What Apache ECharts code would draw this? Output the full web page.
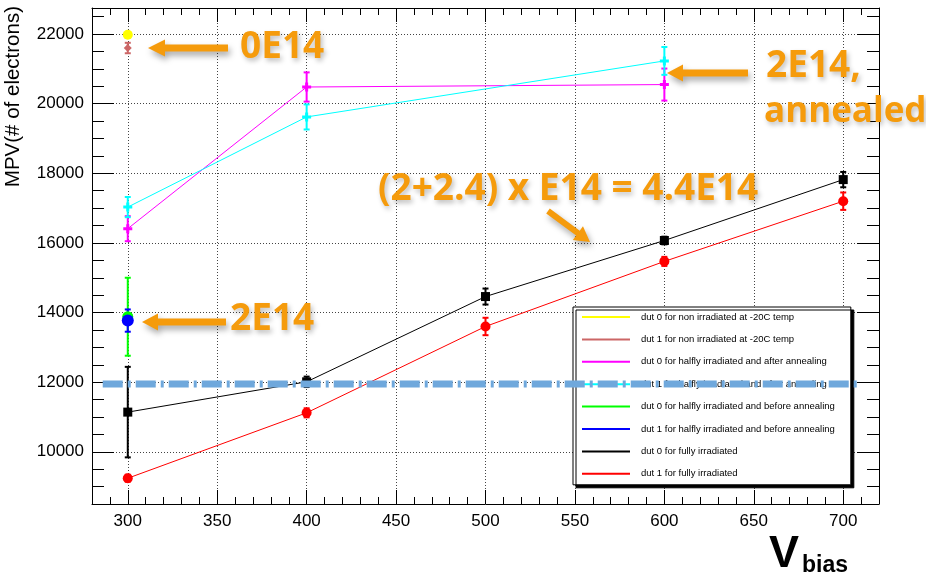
<!DOCTYPE html>
<html lang="en">
<head>
  <meta charset="UTF-8">
  <title>MPV vs Vbias</title>
  <script src="https://cdn.jsdelivr.net/npm/echarts@6.0.0/dist/echarts.min.js"></script>
  <style>
    html, body { margin: 0; padding: 0; background: #fff; }
    #chart { width: 926px; height: 576px; }
  </style>
</head>
<body>
  <div id="chart"></div>
  <script>
    // values (MPV in # of electrons, error = half bar length)
    const nonIrrV = [300];
    const dut0NonIrr = [21980];
    const dut0NonIrrErr = [60];
    const dut1NonIrr = [21600];
    const dut1NonIrrErr = [150];

    const annealV = [300, 400, 600];
    const dut0Anneal = [16410, 20480, 20550];
    const dut0AnnealErr = [360, 420, 460];
    const dut1Anneal = [17030, 19620, 21230];
    const dut1AnnealErr = [290, 360, 400];

    const beforeV = [300];
    const dut0Before = [13880];
    const dut0BeforeErr = [1120];
    const dut1Before = [13770];
    const dut1BeforeErr = [320];

    const fullV = [300, 400, 500, 600, 700];
    const dut0Full = [11140, 12010, 14460, 16070, 17820];
    const dut0FullErr = [1300, 150, 230, 110, 220];
    const dut1Full = [9240, 11120, 13600, 15470, 17200];
    const dut1FullErr = [100, 130, 250, 130, 250];

    // hand drawn threshold line on the slide
    const thresholdV = [286, 709];
    const thresholdMPV = 11950;

    const xTicks = [300, 350, 400, 450, 500, 550, 600, 650, 700];
    const yTicks = [10000, 12000, 14000, 16000, 18000, 20000, 22000];

    const names = [
      'dut 0 for non irradiated at -20C temp',
      'dut 1 for non irradiated at -20C temp',
      'dut 0 for halfly irradiated and after annealing',
      'dut 1 for halfly irradiated and after annealing',
      'dut 0 for halfly irradiated and before annealing',
      'dut 1 for halfly irradiated and before annealing',
      'dut 0 for fully irradiated',
      'dut 1 for fully irradiated'
    ];

    const orange = '#f59b0c';
    const plus = 'path://M3,0H6V3H9V6H6V9H3V6H0V3H3Z';

    function pointSeries(name, xs, ys, color, symbol, size) {
      return {
        name: name, type: 'line', z: 4,
        data: xs.map((x, i) => [x, ys[i]]),
        symbol: symbol, symbolSize: size,
        itemStyle: { color: color },
        lineStyle: { color: color, width: 1 }
      };
    }

    function errorSeries(name, xs, ys, errs, color) {
      return {
        name: name, type: 'custom', z: 3,
        itemStyle: { color: color },
        data: xs.map((x, i) => [x, ys[i] - errs[i], ys[i] + errs[i]]),
        renderItem: function (params, api) {
          const lo = api.coord([api.value(0), api.value(1)]);
          const hi = api.coord([api.value(0), api.value(2)]);
          const st = { stroke: color, lineWidth: 2 };
          return {
            type: 'group',
            children: [
              { type: 'line', shape: { x1: lo[0], y1: lo[1], x2: hi[0], y2: hi[1] }, style: st },
              { type: 'line', shape: { x1: lo[0] - 3, y1: lo[1], x2: lo[0] + 3, y2: lo[1] }, style: st },
              { type: 'line', shape: { x1: hi[0] - 3, y1: hi[1], x2: hi[0] + 3, y2: hi[1] }, style: st }
            ]
          };
        }
      };
    }

    // arrow polygon from tail to tip
    function arrow(tipX, tipY, tailX, tailY, shaftW, headW, headL) {
      const len = Math.hypot(tailX - tipX, tailY - tipY);
      const dx = (tailX - tipX) / len, dy = (tailY - tipY) / len;
      const nx = -dy, ny = dx;
      const bx = tipX + dx * headL, by = tipY + dy * headL;
      return {
        type: 'polygon',
        shape: {
          points: [
            [tipX, tipY],
            [bx + nx * headW / 2, by + ny * headW / 2],
            [bx + nx * shaftW / 2, by + ny * shaftW / 2],
            [tailX + nx * shaftW / 2, tailY + ny * shaftW / 2],
            [tailX - nx * shaftW / 2, tailY - ny * shaftW / 2],
            [bx - nx * shaftW / 2, by - ny * shaftW / 2],
            [bx - nx * headW / 2, by - ny * headW / 2]
          ]
        },
        style: {
          fill: orange, shadowBlur: 6, shadowColor: 'rgba(0,0,0,0.35)',
          shadowOffsetX: 2, shadowOffsetY: 4
        },
        z: 100
      };
    }

    function note(x, y, text, size) {
      return {
        type: 'text', x: x, y: y, z: 100,
        style: {
          text: text, fill: orange, font: 'bold ' + (size || 37) + 'px "Open Sans"',
          align: 'left', verticalAlign: 'middle',
          textShadowBlur: 5, textShadowColor: 'rgba(0,0,0,0.25)',
          textShadowOffsetX: 2, textShadowOffsetY: 3
        }
      };
    }

    const majorTickX = { show: true, inside: true, length: 14, customValues: xTicks, lineStyle: { color: '#000' } };
    const minorTickX = { show: true, inside: true, length: 7, lineStyle: { color: '#000' } };
    const majorTickY = { show: true, inside: true, length: 22, customValues: yTicks, lineStyle: { color: '#000' } };
    const minorTickY = { show: true, inside: true, length: 12, lineStyle: { color: '#000' } };
    const frame = { show: true, onZero: false, lineStyle: { color: '#000', width: 1 } };
    const grid = { show: true, lineStyle: { color: '#444', type: [1, 2], width: 1 } };
    const labelFont = { fontFamily: 'Liberation Sans', fontSize: 17, color: '#000', formatter: v => String(v) };

    const option = {
      animation: false,
      backgroundColor: '#fff',
      grid: { left: 92, right: 47, top: 8, bottom: 72 },
      xAxis: [
        { type: 'value', min: 280, max: 720, position: 'bottom', axisLine: frame, axisTick: majorTickX,
          axisLabel: Object.assign({ customValues: xTicks, margin: 9 }, labelFont), splitLine: grid },
        { type: 'value', min: 280, max: 720, interval: 10, position: 'bottom', axisLine: { show: false },
          axisTick: minorTickX, axisLabel: { show: false }, splitLine: { show: false } },
        { type: 'value', min: 280, max: 720, position: 'top', axisLine: frame, axisTick: majorTickX,
          axisLabel: { show: false }, splitLine: { show: false } },
        { type: 'value', min: 280, max: 720, interval: 10, position: 'top', axisLine: { show: false },
          axisTick: minorTickX, axisLabel: { show: false }, splitLine: { show: false } }
      ],
      yAxis: [
        { type: 'value', min: 8500, max: 22750, position: 'left', axisLine: frame, axisTick: majorTickY,
          axisLabel: Object.assign({ customValues: yTicks, margin: 8 }, labelFont), splitLine: grid },
        { type: 'value', min: 8500, max: 22750, interval: 500, position: 'left', axisLine: { show: false },
          axisTick: minorTickY, axisLabel: { show: false }, splitLine: { show: false } },
        { type: 'value', min: 8500, max: 22750, position: 'right', axisLine: frame, axisTick: majorTickY,
          axisLabel: { show: false }, splitLine: { show: false } },
        { type: 'value', min: 8500, max: 22750, interval: 500, position: 'right', axisLine: { show: false },
          axisTick: minorTickY, axisLabel: { show: false }, splitLine: { show: false } }
      ],
      legend: {
        orient: 'vertical', left: 573, top: 307,
        data: names.map(n => ({ name: n, icon: 'rect' })),
        itemWidth: 48, itemHeight: 2, itemGap: 10.4,
        padding: [4, 16, 5, 9],
        backgroundColor: '#fff', borderColor: '#000', borderWidth: 1,
        shadowColor: '#000', shadowBlur: 0, shadowOffsetX: 3, shadowOffsetY: 3,
        selectedMode: false,
        textStyle: { fontFamily: 'Liberation Sans', fontSize: 9.5, color: '#000', lineHeight: 12, padding: [0, 0, 0, 6] }
      },
      series: [
        errorSeries(names[0], nonIrrV, dut0NonIrr, dut0NonIrrErr, '#ffff00'),
        pointSeries(names[0], nonIrrV, dut0NonIrr, '#ffff00', 'circle', 10),
        errorSeries(names[1], nonIrrV, dut1NonIrr, dut1NonIrrErr, '#cc6666'),
        pointSeries(names[1], nonIrrV, dut1NonIrr, '#cc6666', 'diamond', 8),
        errorSeries(names[2], annealV, dut0Anneal, dut0AnnealErr, '#ff00ff'),
        pointSeries(names[2], annealV, dut0Anneal, '#ff00ff', plus, 9),
        errorSeries(names[3], annealV, dut1Anneal, dut1AnnealErr, '#00ffff'),
        pointSeries(names[3], annealV, dut1Anneal, '#00ffff', plus, 9),
        errorSeries(names[4], beforeV, dut0Before, dut0BeforeErr, '#00ff00'),
        pointSeries(names[4], beforeV, dut0Before, '#00ff00', 'circle', 11),
        errorSeries(names[5], beforeV, dut1Before, dut1BeforeErr, '#0000ff'),
        pointSeries(names[5], beforeV, dut1Before, '#0000ff', 'circle', 12),
        errorSeries(names[6], fullV, dut0Full, dut0FullErr, '#000000'),
        pointSeries(names[6], fullV, dut0Full, '#000000', 'rect', 9),
        errorSeries(names[7], fullV, dut1Full, dut1FullErr, '#ff0000'),
        pointSeries(names[7], fullV, dut1Full, '#ff0000', 'circle', 10),
        {
          type: 'line', z: 10, silent: true, symbol: 'none',
          data: thresholdV.map(x => [x, thresholdMPV]),
          lineStyle: { color: '#6fa8dc', width: 7, type: [20, 5, 3, 5] }
        }
      ],
      graphic: [
        {
          type: 'text', x: 13, y: 6, rotation: Math.PI / 2,
          style: { text: 'MPV(# of electrons)', font: '20.5px "Liberation Sans"', fill: '#000', align: 'right', verticalAlign: 'middle' }
        },
        {
          type: 'text', x: 769, y: 555,
          style: { text: 'V', font: 'bold 45px "Liberation Sans"', fill: '#000', align: 'left', verticalAlign: 'middle' }
        },
        {
          type: 'text', x: 802, y: 566,
          style: { text: 'bias', font: 'bold 23px "Liberation Sans"', fill: '#000', align: 'left', verticalAlign: 'middle' }
        },
        arrow(148, 48, 228, 48, 7, 17, 17),
        arrow(142, 322, 226, 322, 7, 17, 16),
        arrow(667, 73, 748, 73, 7, 17, 16),
        arrow(590, 242, 548, 211, 6, 17, 15),
        note(240, 47, '0E14'),
        note(230, 319, '2E14'),
        note(766, 66, '2E14,'),
        note(764, 112, 'annealed', 35),
        note(378, 189, '(2+2.4) x E14 = 4.4E14')
      ]
    };

    const chart = echarts.init(document.getElementById('chart'));
    chart.setOption(option);
  </script>
</body>
</html>
